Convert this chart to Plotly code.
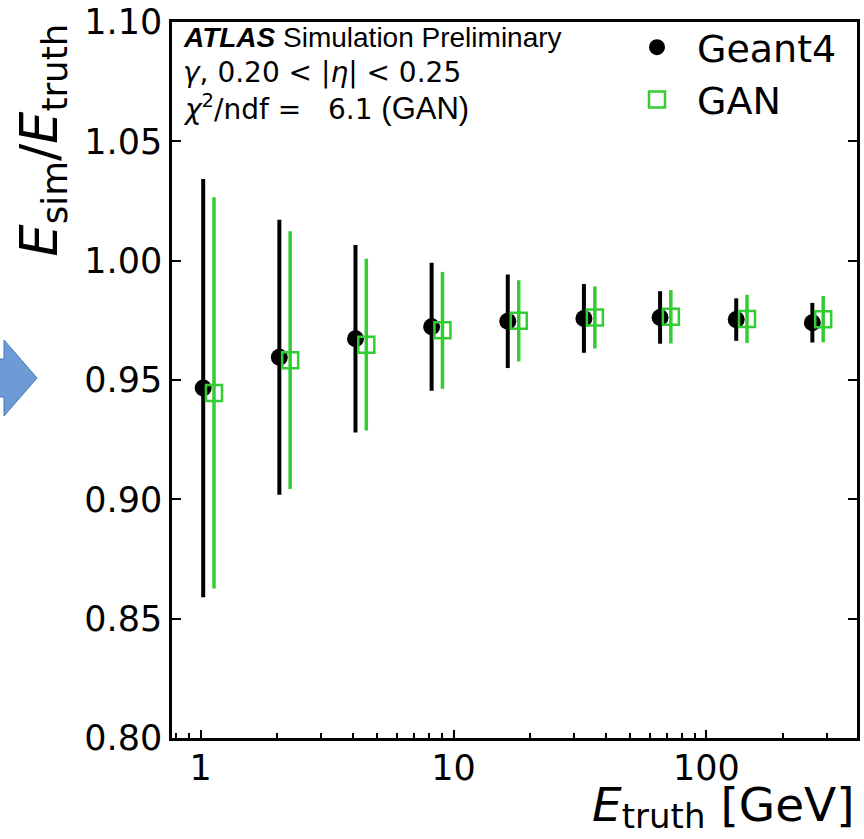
import plotly.graph_objects as go

# ---- data ----
energy_g4 = [1.024, 2.048, 4.096, 8.192, 16.384, 32.768, 65.536, 131.072, 262.144]
energy_gan = [1.13, 2.26, 4.52, 9.04, 18.1, 36.2, 72.3, 144.6, 289.3]
resp_g4 = [0.9466, 0.9595, 0.9673, 0.9723, 0.9746, 0.9758, 0.9762, 0.9753, 0.9740]
err_g4 = [0.0876, 0.0576, 0.0393, 0.0268, 0.0196, 0.0144, 0.0110, 0.0089, 0.0083]
resp_gan = [0.9446, 0.9583, 0.9648, 0.9708, 0.9748, 0.9762, 0.9765, 0.9756, 0.9755]
err_gan = [0.0820, 0.0540, 0.0360, 0.0245, 0.0170, 0.0130, 0.0112, 0.0101, 0.0097]

x_ticks = [1, 10, 100]
x_ticklabels = ["1", "10", "100"]
y_ticks = [0.80, 0.85, 0.90, 0.95, 1.00, 1.05, 1.10]

GREEN = "#32CD32"
W, H = 864, 839
L, R, T, B = 172, 7, 22, 101
PW, PH = W - L - R, H - T - B


def px(x):
    return (x - L) / PW


def py(y):
    return (H - B - y) / PH


fig = go.Figure()
fig.add_trace(go.Scatter(
    x=energy_g4, y=resp_g4, mode="markers", name="Geant4",
    marker=dict(symbol="circle", size=17, color="black"),
    error_y=dict(type="data", array=err_g4, visible=True, color="black",
                 thickness=4, width=0),
))
fig.add_trace(go.Scatter(
    x=energy_gan, y=resp_gan, mode="markers", name="GAN",
    marker=dict(symbol="square-open", size=16, color=GREEN,
                line=dict(color=GREEN, width=2.5)),
    error_y=dict(type="data", array=err_gan, visible=True, color=GREEN,
                 thickness=3.5, width=0),
))

TICKFONT = dict(family="DejaVu Sans", size=35, color="black")
fig.update_xaxes(
    type="log", range=[-0.113, 2.595],
    tickvals=x_ticks, ticktext=x_ticklabels,
    ticks="inside", ticklen=8, tickwidth=2, tickcolor="black",
    minor=dict(ticks="inside", ticklen=5, tickwidth=1.5, tickcolor="black",
               dtick="D1", showgrid=False),
    showline=True, linewidth=2.5, linecolor="black", mirror=True,
    showgrid=False, zeroline=False, tickfont=TICKFONT,
    ticklabelstandoff=-3,
)
fig.update_yaxes(
    range=[0.80, 1.10], tickvals=y_ticks,
    ticktext=[f"{v:.2f}" for v in y_ticks],
    ticks="inside", ticklen=9, tickwidth=2, tickcolor="black",
    showline=True, linewidth=2.5, linecolor="black", mirror="ticks",
    showgrid=False, zeroline=False, tickfont=TICKFONT,
    ticklabelstandoff=0,
)

ANN = dict(family="Liberation Sans", size=28, color="black")
ANN2 = dict(family="DejaVu Sans", size=28, color="black")
annotations = [
    dict(x=px(181), y=py(38), xref="paper", yref="paper", xanchor="left",
         yanchor="middle", showarrow=False, font=ANN,
         text="<b><i>ATLAS</i></b> Simulation Preliminary"),
    dict(x=px(181), y=py(73), xref="paper", yref="paper", xanchor="left",
         yanchor="middle", showarrow=False, font=ANN2,
         text="<i>γ</i>, 0.20 &lt; |<i>η</i>| &lt; 0.25"),
    dict(x=px(181), y=py(107), xref="paper", yref="paper", xanchor="left",
         yanchor="middle", showarrow=False, font=ANN2,
         text="<i>χ</i><sup>2</sup>/ndf =&nbsp;&nbsp;&nbsp;6.1 "
              "<span style='font-family:Liberation Sans;font-size:31px'>(GAN)</span>"),
    dict(x=px(42), y=1.0, xref="paper", yref="paper", xanchor="center",
         yanchor="top", showarrow=False, textangle=-90,
         font=dict(family="DejaVu Sans", size=51, color="black"),
         text="<i>E</i><sub>sim</sub>/<i>E</i><sub>truth</sub>"),
    dict(x=1.0, y=py(838), xref="paper", yref="paper", xanchor="right",
         yanchor="bottom", showarrow=False,
         font=dict(family="DejaVu Sans", size=47, color="black"),
         text="<i>E</i><span style='font-size:34px;baseline-shift:-7px'>truth</span> [GeV]"),
]

# decorative blue block arrow at the left edge
ax = [-2, 4, 4, 37, 4, 4, -2]
ay = [359, 359, 340, 378, 416, 397, 397]
path = "M " + " L ".join(f"{px(a)},{py(b)}" for a, b in zip(ax, ay)) + " Z"
shapes = [dict(type="path", xref="paper", yref="paper", path=path,
               fillcolor="#6d9bd6", line=dict(color="#4a78b8", width=1),
               layer="above")]

fig.update_layout(
    width=W, height=H,
    margin=dict(l=L, r=R, t=T, b=B, autoexpand=False),
    paper_bgcolor="white", plot_bgcolor="white",
    annotations=annotations, shapes=shapes,
    showlegend=True,
    legend=dict(x=px(617), y=py(16), xanchor="left", yanchor="top",
                font=dict(family="DejaVu Sans", size=38, color="black"),
                bgcolor="rgba(0,0,0,0)", itemwidth=70, tracegroupgap=0),
)

fig.write_html("out.html")
